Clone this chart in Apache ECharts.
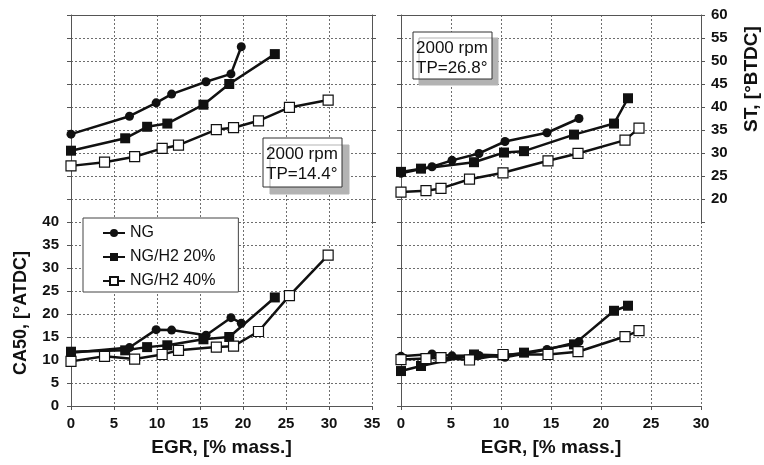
<!DOCTYPE html>
<html>
<head>
<meta charset="utf-8">
<script src="https://cdn.jsdelivr.net/npm/echarts@6/dist/echarts.min.js"></script>
<style>
  html, body { margin: 0; padding: 0; background: #fff; }
  #chart { width: 764px; height: 465px; }
</style>
</head>
<body>
<div id="chart"></div>
<script>
// TP=14.4 deg (left panels)
var egrA_NG  = [0, 6.8, 9.9, 11.7, 15.7, 18.6, 19.8];
var stA_NG   = [34.1, 38.0, 40.9, 42.8, 45.5, 47.2, 53.1];
var caA_NG   = [11.6, 12.7, 16.6, 16.5, 15.4, 19.2, 18.0];
var egrA_H20 = [0, 6.3, 8.85, 11.2, 15.4, 18.4, 23.7];
var stA_H20  = [30.5, 33.2, 35.7, 36.4, 40.5, 45.0, 51.5];
var caA_H20  = [11.8, 12.1, 12.8, 13.2, 14.5, 15.0, 23.6];
var egrA_H40 = [0, 3.9, 7.4, 10.6, 12.5, 16.9, 18.9, 21.8, 25.4, 29.9];
var stA_H40  = [27.2, 28.0, 29.2, 31.0, 31.7, 35.1, 35.5, 37.0, 39.9, 41.5];
var caA_H40  = [9.7, 10.8, 10.2, 11.2, 12.1, 12.8, 13.0, 16.2, 24.0, 32.8];

// TP=26.8 deg (right panels)
var egrB_NG  = [0, 3.1, 5.1, 7.8, 10.4, 14.6, 17.8];
var stB_NG   = [25.6, 27.0, 28.4, 29.9, 32.5, 34.4, 37.5];
var caB_NG   = [10.8, 11.3, 10.9, 11.0, 10.6, 12.3, 14.0];
var egrB_H20 = [0, 2.0, 7.3, 10.3, 12.3, 17.3, 21.3, 22.7];
var stB_H20  = [25.9, 26.6, 28.0, 30.1, 30.4, 34.0, 36.4, 41.9];
var caB_H20  = [7.6, 8.7, 11.2, 11.0, 11.6, 13.4, 20.7, 21.8];
var egrB_H40 = [0, 2.5, 4.0, 6.85, 10.2, 14.7, 17.7, 22.4, 23.8];
var stB_H40  = [21.5, 21.8, 22.3, 24.3, 25.7, 28.3, 29.9, 32.8, 35.4];
var caB_H40  = [10.1, 10.3, 10.5, 10.0, 11.2, 11.2, 11.8, 15.1, 16.4];

var FONT = "'Liberation Sans', Arial, sans-serif";

function zip(xs, ys) {
    var out = [];
    for (var i = 0; i < xs.length; i++) out.push([xs[i], ys[i]]);
    return out;
}

var styles = {
    'NG':        {symbol: 'circle', symbolSize: 9, itemStyle: {color: '#111'}},
    'NG/H2 20%': {symbol: 'rect', symbolSize: 10, itemStyle: {color: '#111'}},
    'NG/H2 40%': {symbol: 'rect', symbolSize: 10, itemStyle: {color: '#fff', borderColor: '#111', borderWidth: 1.2}}
};

function mkSeries(name, xi, yi, xs, ys) {
    var s = styles[name];
    return {
        name: name,
        type: 'line',
        xAxisIndex: xi,
        yAxisIndex: yi,
        data: zip(xs, ys),
        symbol: s.symbol,
        symbolSize: s.symbolSize,
        showAllSymbol: true,
        itemStyle: s.itemStyle,
        lineStyle: {color: '#111', width: 2.5},
        z: name === 'NG/H2 40%' ? 3 : 2,
        animation: false
    };
}

// fresh objects every call, so nothing is shared between axes
function gridLine() {
    return {show: true, lineStyle: {color: '#6e6e6e', type: [2, 2], width: 1}};
}
function axisLine() {
    return {show: true, lineStyle: {color: '#555', width: 1}};
}
function axisTick() {
    return {show: true, length: 4, lineStyle: {color: '#555'}};
}
function tickLabel(margin) {
    return {show: true, margin: margin, color: '#111', fontSize: 15, fontWeight: 'bold', fontFamily: FONT};
}

function xAx(gi, max, bottom) {
    return {
        type: 'value', gridIndex: gi, min: 0, max: max, interval: 5,
        position: bottom ? 'bottom' : 'top',
        axisLine: axisLine(),
        axisTick: bottom ? axisTick() : {show: false},
        axisLabel: bottom ? tickLabel(10) : {show: false},
        splitLine: gridLine(),
        name: bottom ? 'EGR, [% mass.]' : '',
        nameLocation: 'middle',
        nameGap: 32,
        nameTextStyle: {color: '#111', fontSize: 19, fontWeight: 'bold', fontFamily: FONT}
    };
}

function yAx(gi, min, max, pos, labels, split) {
    var label = labels ? tickLabel(pos === 'right' ? 10 : 12) : {show: false};
    if (labels) label.formatter = function (v) { return (min === 15 && v === 15) ? '' : v; };
    return {
        type: 'value', gridIndex: gi, min: min, max: max, interval: 5,
        position: pos,
        axisLine: axisLine(),
        axisTick: axisTick(),
        axisLabel: label,
        splitLine: split ? gridLine() : {show: false}
    };
}

var chart = echarts.init(document.getElementById('chart'), null, {renderer: 'canvas'});

// widths/heights chosen so every grid line falls on a whole pixel
var option = {
    backgroundColor: '#fff',
    animation: false,
    textStyle: {fontFamily: FONT},
    grid: [
        {left: 71, top: 15, width: 301, height: 207},
        {left: 401, top: 15, width: 300, height: 207},
        {left: 71, top: 222, width: 301, height: 184},
        {left: 401, top: 222, width: 300, height: 184}
    ],
    xAxis: [
        xAx(0, 35, false),
        xAx(1, 30, false),
        xAx(2, 35, true),
        xAx(3, 30, true)
    ],
    yAxis: [
        yAx(0, 15, 60, 'left', false, true),
        yAx(0, 15, 60, 'right', false, false),
        yAx(1, 15, 60, 'left', false, true),
        yAx(1, 15, 60, 'right', true, false),
        yAx(2, 0, 40, 'left', true, true),
        yAx(3, 0, 40, 'left', false, true)
    ],
    legend: {
        data: ['NG', 'NG/H2 20%', 'NG/H2 40%'],
        orient: 'vertical',
        left: 83,
        top: 218,
        itemWidth: 22,
        itemHeight: 10,
        itemGap: 8,
        padding: [7, 23, 3, 19],
        borderColor: '#444',
        borderWidth: 1,
        backgroundColor: '#fff',
        selectedMode: false,
        textStyle: {color: '#111', fontSize: 16, fontFamily: FONT}
    },
    graphic: [
        {type: 'rect', shape: {x: 263, y: 138, width: 79, height: 49}, z: 10,
         style: {fill: '#fff', stroke: '#333', lineWidth: 1, shadowColor: '#b3b3b3', shadowOffsetX: 7, shadowOffsetY: 7, shadowBlur: 0}},
        {type: 'text', x: 266, y: 154, z: 11,
         style: {text: '2000 rpm', fontSize: 17, fontFamily: FONT, fill: '#111', verticalAlign: 'middle'}},
        {type: 'text', x: 266, y: 174, z: 11,
         style: {text: 'TP=14.4°', fontSize: 17, fontFamily: FONT, fill: '#111', verticalAlign: 'middle'}},
        {type: 'rect', shape: {x: 413, y: 32, width: 79, height: 47}, z: 10,
         style: {fill: '#fff', stroke: '#333', lineWidth: 1, shadowColor: '#b3b3b3', shadowOffsetX: 6, shadowOffsetY: 6, shadowBlur: 0}},
        {type: 'text', x: 416, y: 48, z: 11,
         style: {text: '2000 rpm', fontSize: 17, fontFamily: FONT, fill: '#111', verticalAlign: 'middle'}},
        {type: 'text', x: 416, y: 68, z: 11,
         style: {text: 'TP=26.8°', fontSize: 17, fontFamily: FONT, fill: '#111', verticalAlign: 'middle'}},
        {type: 'text', x: 21, y: 313, rotation: Math.PI / 2, z: 11,
         style: {text: 'CA50, [°ATDC]', fontSize: 18, fontWeight: 'bold', fontFamily: FONT, fill: '#111', align: 'center', verticalAlign: 'middle'}},
        {type: 'text', x: 752, y: 79, rotation: Math.PI / 2, z: 11,
         style: {text: 'ST, [°BTDC]', fontSize: 19, fontWeight: 'bold', fontFamily: FONT, fill: '#111', align: 'center', verticalAlign: 'middle'}}
    ],
    series: [
        mkSeries('NG', 0, 0, egrA_NG, stA_NG),
        mkSeries('NG/H2 20%', 0, 0, egrA_H20, stA_H20),
        mkSeries('NG/H2 40%', 0, 0, egrA_H40, stA_H40),
        mkSeries('NG', 1, 2, egrB_NG, stB_NG),
        mkSeries('NG/H2 20%', 1, 2, egrB_H20, stB_H20),
        mkSeries('NG/H2 40%', 1, 2, egrB_H40, stB_H40),
        mkSeries('NG', 2, 4, egrA_NG, caA_NG),
        mkSeries('NG/H2 20%', 2, 4, egrA_H20, caA_H20),
        mkSeries('NG/H2 40%', 2, 4, egrA_H40, caA_H40),
        mkSeries('NG', 3, 5, egrB_NG, caB_NG),
        mkSeries('NG/H2 20%', 3, 5, egrB_H20, caB_H20),
        mkSeries('NG/H2 40%', 3, 5, egrB_H40, caB_H40)
    ]
};
chart.setOption(option);
</script>
</body>
</html>
